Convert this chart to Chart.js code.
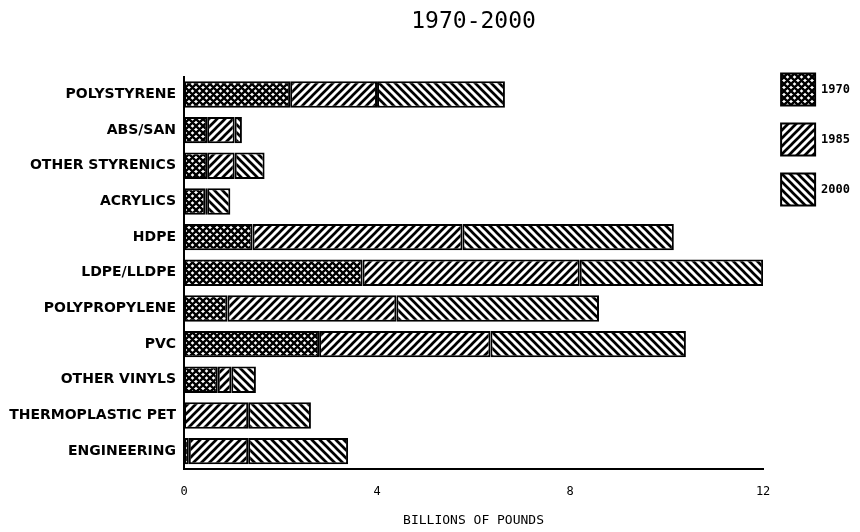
<!DOCTYPE html>
<html>
<head>
<meta charset="utf-8">
<script src="https://cdn.jsdelivr.net/npm/chart.js@4.4.0/dist/chart.umd.min.js"></script>
<style>
  html, body { margin: 0; background: #fff; }
  #wrap { width: 860px; height: 532px; }
</style>
</head>
<body>
<div id="wrap"><canvas id="chart"></canvas></div>
<script>
/* ── data (billions of pounds, cumulative by year) ── */
const RESINS = [
  "POLYSTYRENE", "ABS/SAN", "OTHER STYRENICS", "ACRYLICS", "HDPE",
  "LDPE/LLDPE", "POLYPROPYLENE", "PVC", "OTHER VINYLS",
  "THERMOPLASTIC PET", "ENGINEERING",
];
const V1970 = [2.2, 0.48, 0.48, 0.44, 1.42, 3.7, 0.9, 2.8, 0.7, 0, 0.1];
const V1985 = [4.0, 1.05, 1.05, 0.48, 5.77, 8.2, 4.4, 6.35, 0.98, 1.33, 1.33];
const V2000 = [6.65, 1.2, 1.67, 0.96, 10.15, 12.0, 8.6, 10.4, 1.49, 2.63, 3.4];
const YEARS = ["1970", "1985", "2000"];
const X_TICKS = [0, 4, 8, 12];

const MONO = "'DejaVu Sans Mono', monospace";

/* ── hatch patterns ── */
function hatch(kind) {
  const s = kind === "cross" ? 7 : 8;
  const c = document.createElement("canvas");
  c.width = s; c.height = s;
  const g = c.getContext("2d");
  g.fillStyle = "#fff";
  g.fillRect(0, 0, s, s);
  g.strokeStyle = "#000";
  g.lineWidth = kind === "cross" ? 2.4 : 2.7;
  g.beginPath();
  if (kind === "fwd" || kind === "cross") {
    g.moveTo(-1, s + 1); g.lineTo(s + 1, -1);
    g.moveTo(-1, 1); g.lineTo(1, -1);
    g.moveTo(s - 1, s + 1); g.lineTo(s + 1, s - 1);
  }
  if (kind === "back" || kind === "cross") {
    g.moveTo(-1, -1); g.lineTo(s + 1, s + 1);
    g.moveTo(s - 1, -1); g.lineTo(s + 1, 1);
    g.moveTo(-1, s - 1); g.lineTo(1, s + 1);
  }
  g.stroke();
  return g.createPattern(c, "repeat");
}

const PATTERNS = [hatch("cross"), hatch("fwd"), hatch("back")];

/* each year is drawn from the previous year's total to its own */
const SERIES = [V1970, V1985, V2000];
const datasets = SERIES.map((vals, i) => ({
  label: YEARS[i],
  data: vals.map((v, k) => {
    const start = i === 0 ? 0 : SERIES[i - 1][k];
    return v > start ? [start, v] : null;
  }),
  backgroundColor: PATTERNS[i],
  borderColor: "#000",
  borderWidth: 2,
  borderSkipped: false,
  grouped: false,
  barPercentage: 0.74,
  categoryPercentage: 1,
}));

new Chart(document.getElementById("chart"), {
  type: "bar",
  data: { labels: RESINS, datasets },
  options: {
    indexAxis: "y",
    responsive: true,
    maintainAspectRatio: false,
    animation: false,
    layout: { padding: { left: 0, right: 0, top: 0, bottom: 4 } },
    plugins: {
      title: {
        display: true,
        fullSize: false,
        text: "1970-2000",
        color: "#000",
        font: { family: MONO, size: 23, weight: "normal" },
        padding: { top: 8, bottom: 41 },
      },
      legend: {
        position: "right",
        align: "start",
        title: { display: true, text: "", font: { size: 12 }, padding: { top: 0, bottom: 41 } },
        labels: {
          color: "#000",
          boxWidth: 34,
          boxHeight: 32,
          padding: 18,
          font: { family: MONO, size: 12, weight: "bold" },
        },
      },
      tooltip: { enabled: false },
    },
    scales: {
      x: {
        min: 0,
        max: 12,
        afterBuildTicks: s => { s.ticks = X_TICKS.map(v => ({ value: v })); },
        grid: { display: false },
        border: { display: true, color: "#000", width: 2 },
        ticks: { color: "#000", padding: 8, font: { family: MONO, size: 12 } },
        title: {
          display: true,
          text: "BILLIONS OF POUNDS",
          color: "#000",
          font: { family: MONO, size: 13 },
          padding: { top: 5, bottom: 0 },
        },
      },
      y: {
        afterFit: s => { s.width = 184; },
        grid: { display: false },
        border: { display: true, color: "#000", width: 2 },
        ticks: {
          color: "#000",
          padding: 0,
          font: { family: "'DejaVu Sans', sans-serif", size: 14, weight: "bold" },
        },
      },
    },
  },
});
</script>
</body>
</html>
